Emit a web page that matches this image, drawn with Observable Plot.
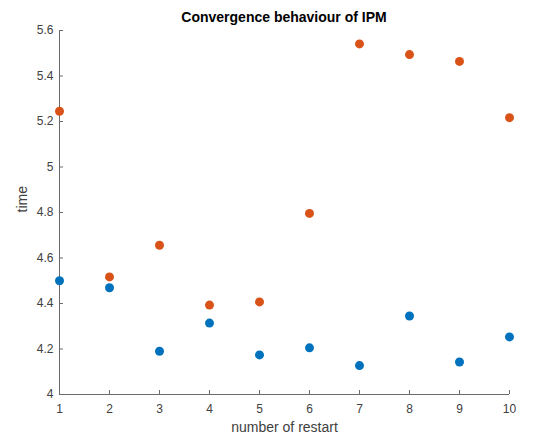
<!DOCTYPE html>
<html>
<head>
<meta charset="utf-8">
<script src="https://cdn.jsdelivr.net/npm/d3@7"></script>
<script src="https://cdn.jsdelivr.net/npm/@observablehq/plot@0.6"></script>
<style>
  html, body { margin: 0; padding: 0; background: #fff; }
  #wrap { position: relative; width: 533px; height: 441px; font-family: "Liberation Sans", Arial, sans-serif; }
  #title { position: absolute; left: 0; top: 8px; width: 533px; padding-left: 35px; box-sizing: border-box; text-align: center; font-weight: bold; font-size: 14px; color: #000; line-height: 18px; }
</style>
</head>
<body>
<div id="wrap">
  <div id="title">Convergence behaviour of IPM</div>
  <div id="chart"></div>
</div>
<script>
const restarts = [1, 2, 3, 4, 5, 6, 7, 8, 9, 10];
const series1 = [4.50, 4.469, 4.19, 4.314, 4.174, 4.205, 4.127, 4.345, 4.143, 4.253];
const series2 = [5.245, 4.517, 4.656, 4.393, 4.407, 4.796, 5.541, 5.494, 5.464, 5.217];
const xTicks = [1, 2, 3, 4, 5, 6, 7, 8, 9, 10];
const yTicks = [4, 4.2, 4.4, 4.6, 4.8, 5, 5.2, 5.4, 5.6];
const seriesNames = ["series 1", "series 2"];
const seriesColors = ["#0072BD", "#D95319"];

const data = [];
restarts.forEach((r, i) => {
  data.push({restart: r, time: series1[i], s: seriesNames[0]});
  data.push({restart: r, time: series2[i], s: seriesNames[1]});
});

const axisColor = "#6b6b6b";
const textColor = "#404040";

const plot = Plot.plot({
  width: 533,
  height: 441,
  marginTop: 30,
  marginBottom: 47,
  marginLeft: 59,
  marginRight: 24,
  style: {fontFamily: "'Liberation Sans', Arial, sans-serif", fontSize: "12px", color: textColor, background: "#fff"},
  x: {domain: [1, 10]},
  y: {domain: [4, 5.6]},
  color: {domain: seriesNames, range: seriesColors},
  marks: [
    Plot.ruleY([4], {stroke: axisColor, strokeWidth: 1}),
    Plot.ruleX([1], {stroke: axisColor, strokeWidth: 1}),
    Plot.axisX(xTicks, {tickSize: -4, text: null, stroke: axisColor, label: null}),
    Plot.axisY(yTicks, {tickSize: -4, text: null, stroke: axisColor, label: null}),
    Plot.axisX(xTicks, {tickSize: 0, tickPadding: 10, fill: textColor, fontSize: 12, label: null, tickFormat: d => String(d)}),
    Plot.axisY(yTicks, {tickSize: 0, tickPadding: 6, fill: textColor, fontSize: 12, label: null, tickFormat: d => String(d)}),
    Plot.text(["number of restart"], {frameAnchor: "bottom", dy: 37, fill: textColor, fontSize: 14}),
    Plot.text(["time"], {frameAnchor: "left", dx: -37, rotate: -90, fill: textColor, fontSize: 14}),
    Plot.dot(data, {x: "restart", y: "time", fill: "s", r: 4.5, stroke: null})
  ]
});
document.getElementById("chart").appendChild(plot);
</script>
</body>
</html>
